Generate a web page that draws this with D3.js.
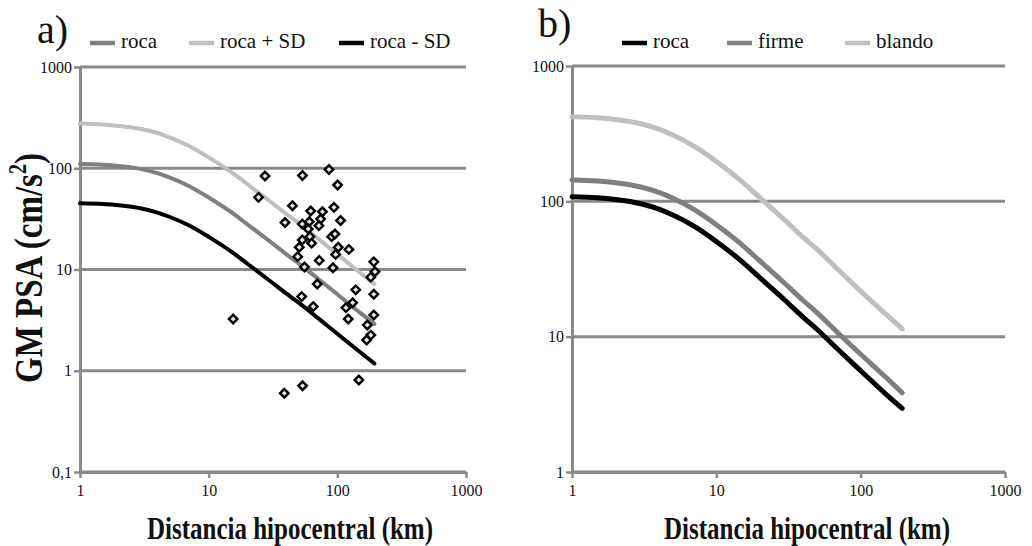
<!DOCTYPE html>
<html>
<head>
<meta charset="utf-8">
<script src="https://cdn.jsdelivr.net/npm/d3@7"></script>
<style>
  html, body { margin: 0; padding: 0; background: #fff; }
  svg { display: block; font-family: "Liberation Serif", "Times New Roman", serif; }
</style>
</head>
<body>
<svg id="chart" width="1032" height="546"></svg>
<script>
const distances = [1, 1.5, 2, 3, 4, 5, 7, 10, 15, 20, 30, 40, 50, 70, 100, 150, 194];

// panel a) model for rock +/- one standard deviation
const rocaA       = [110, 108.5, 105.4, 98, 89.4, 80.9, 66.9, 51.5, 36.8, 27.9, 18.9, 14.2, 11.5, 8.2, 5.7, 3.75, 2.9];
const rocaPlusSD  = [276, 270, 262, 244, 223, 201, 166.5, 128, 91.5, 69.5, 47, 35.4, 28.7, 20.4, 14.2, 9.3, 7.2];
const rocaMinusSD = [45, 44.3, 43, 40, 36.5, 33, 27.3, 21, 15, 11.4, 7.7, 5.8, 4.7, 3.35, 2.32, 1.53, 1.18];

// panel a) observed records (hypocentral distance km, PSA cm/s2)
const obsDist = [27.4, 53.6, 86.1, 100.5, 24.4, 44.8, 94.1, 62.1, 76.6, 74.2, 39.2, 53.4, 60.5, 71.9, 106, 59.4,
                 61.2, 90.3, 95.8, 53.4, 63.1, 50.6, 101.6, 123, 49.2, 72.3, 97, 92.5, 55.5, 192, 196, 182,
                 69.8, 139, 192, 52.8, 131.5, 116.7, 65, 15.5, 121.5, 192, 171, 182, 169, 147, 53.7, 38.7];
const obsPSA  = [83.9, 84.8, 97.2, 68.3, 51.6, 42.6, 41.1, 37.8, 37.2, 31.5, 29.1, 28.1, 29.6, 27.1, 30.5, 25.1,
                 21.1, 21.1, 22.4, 19.6, 18.2, 16.6, 16.6, 15.8, 13.4, 12.3, 14.1, 10.4, 10.6, 11.9, 9.5, 8.4,
                 7.2, 6.3, 5.7, 5.4, 4.7, 4.2, 4.3, 3.24, 3.24, 3.55, 2.83, 2.25, 2.01, 0.81, 0.71, 0.60];

// panel b) model by site class
const rocaB  = [108, 106.3, 103.2, 96, 87.6, 79.3, 65.6, 50.5, 36, 27.3, 18.5, 13.9, 11.3, 8.0, 5.6, 3.75, 2.95];
const firme  = [144, 141.4, 137.3, 127.7, 116.5, 105.5, 87.2, 67.2, 47.9, 36.3, 24.6, 18.5, 15.0, 10.6, 7.41, 4.99, 3.85];
const blando = [421, 414.6, 402.5, 374.4, 341.6, 309.3, 255.8, 197, 140.4, 106.5, 72.2, 54.2, 44.1, 31.2, 21.7, 14.6, 11.4];

const xTicks = [1, 10, 100, 1000];
const yTicksA = [0.1, 1, 10, 100, 1000];
const yTicksB = [1, 10, 100, 1000];

const GRID = "#8a8a8a";
const BLACK = "#000000", MID = "#7f7f7f", LIGHT = "#bfbfbf";
const FONT = "'Liberation Serif', 'Times New Roman', serif";

const svg = d3.select("#chart");
svg.append("rect").attr("width", 1032).attr("height", 546).attr("fill", "#fff");

function fmtTick(d) {
  return String(d).replace(".", ",");
}

function drawPanel(p) {
  const x = d3.scaleLog().domain([1, 1000]).range([p.left, p.right]);
  const y = d3.scaleLog().domain(p.yDomain).range([p.bottom, p.top]);
  const g = svg.append("g");

  // horizontal gridlines
  g.append("g").selectAll("line")
    .data(p.yTicks)
    .join("line")
    .attr("x1", p.left).attr("x2", p.right)
    .attr("y1", d => y(d)).attr("y2", d => y(d))
    .attr("stroke", GRID).attr("stroke-width", 3);

  const yAxis = g.append("g")
    .attr("transform", `translate(${p.left},0)`)
    .call(d3.axisLeft(y).tickValues(p.yTicks).tickFormat(fmtTick)
      .tickSize(6).tickSizeOuter(0).tickPadding(2));
  const xAxis = g.append("g")
    .attr("transform", `translate(0,${p.bottom})`)
    .call(d3.axisBottom(x).tickValues(xTicks).tickFormat(fmtTick)
      .tickSize(6).tickSizeOuter(0).tickPadding(7));

  [yAxis, xAxis].forEach(a => {
    a.attr("font-family", FONT).attr("font-size", 16);
    a.select(".domain").attr("stroke", GRID).attr("stroke-width", 3);
    a.selectAll(".tick line").attr("stroke", GRID).attr("stroke-width", 2.5);
    a.selectAll(".tick text").attr("fill", "#111");
  });

  // model curves
  const line = d3.line()
    .x(d => x(d[0]))
    .y(d => y(d[1]))
    .curve(d3.curveMonotoneX);

  p.series.forEach(s => {
    g.append("path")
      .datum(distances.map((r, i) => [r, s.values[i]]))
      .attr("d", line)
      .attr("fill", "none")
      .attr("stroke", s.color)
      .attr("stroke-width", p.lineWidth)
      .attr("stroke-linecap", "round")
      .attr("stroke-linejoin", "round");
  });

  // observed points as diamonds
  if (p.points) {
    const diamond = d3.symbol().type(d3.symbolSquare).size(36);
    g.append("g").selectAll("path")
      .data(p.points)
      .join("path")
      .attr("d", diamond)
      .attr("transform", d => `translate(${x(d[0])},${y(d[1])}) rotate(45)`)
      .attr("fill", "#e4e4e4")
      .attr("stroke", "#000")
      .attr("stroke-width", 2.4);
  }

  // legend
  p.legend.forEach(l => {
    g.append("line")
      .attr("x1", l.x).attr("x2", l.x + 25)
      .attr("y1", 43).attr("y2", 43)
      .attr("stroke", l.color).attr("stroke-width", 4.5);
    g.append("text")
      .attr("x", l.x + 31).attr("y", 48)
      .attr("font-size", 21).attr("fill", "#111")
      .text(l.label);
  });

  // panel letter
  g.append("text")
    .attr("x", p.letter.x).attr("y", p.letter.y)
    .attr("font-size", 40).attr("fill", "#111")
    .text(p.letter.text);

  // x axis title
  g.append("text")
    .attr("transform", `translate(${p.titleX},539) scale(1,1.28)`)
    .attr("text-anchor", "middle")
    .attr("font-size", 25).attr("font-weight", "bold").attr("fill", "#111")
    .text("Distancia hipocentral (km)");
}

drawPanel({
  left: 80, right: 466, top: 67, bottom: 472,
  yDomain: [0.1, 1000], yTicks: yTicksA, lineWidth: 4,
  series: [
    { values: rocaA, color: MID },
    { values: rocaPlusSD, color: LIGHT },
    { values: rocaMinusSD, color: BLACK }
  ],
  points: obsDist.map((d, i) => [d, obsPSA[i]]),
  legend: [
    { x: 90, label: "roca", color: MID },
    { x: 189, label: "roca + SD", color: LIGHT },
    { x: 339, label: "roca - SD", color: BLACK }
  ],
  letter: { text: "a)", x: 37, y: 43 },
  titleX: 290
});

drawPanel({
  left: 572, right: 1005, top: 66, bottom: 472,
  yDomain: [1, 1000], yTicks: yTicksB, lineWidth: 5,
  series: [
    { values: blando, color: LIGHT },
    { values: firme, color: MID },
    { values: rocaB, color: BLACK }
  ],
  legend: [
    { x: 622, label: "roca", color: BLACK },
    { x: 727, label: "firme", color: MID },
    { x: 845, label: "blando", color: LIGHT }
  ],
  letter: { text: "b)", x: 538, y: 37 },
  titleX: 807
});

// y axis title (panel a only)
const yTitle = svg.append("text")
  .attr("transform", "translate(42,268) rotate(-90) scale(1,1.22)")
  .attr("text-anchor", "middle")
  .attr("font-size", 33).attr("font-weight", "bold").attr("fill", "#111");
yTitle.append("tspan").text("GM PSA (cm/s");
yTitle.append("tspan").attr("font-size", 20).attr("dy", -13).text("2");
yTitle.append("tspan").attr("dy", 13).text(")");
</script>
</body>
</html>
